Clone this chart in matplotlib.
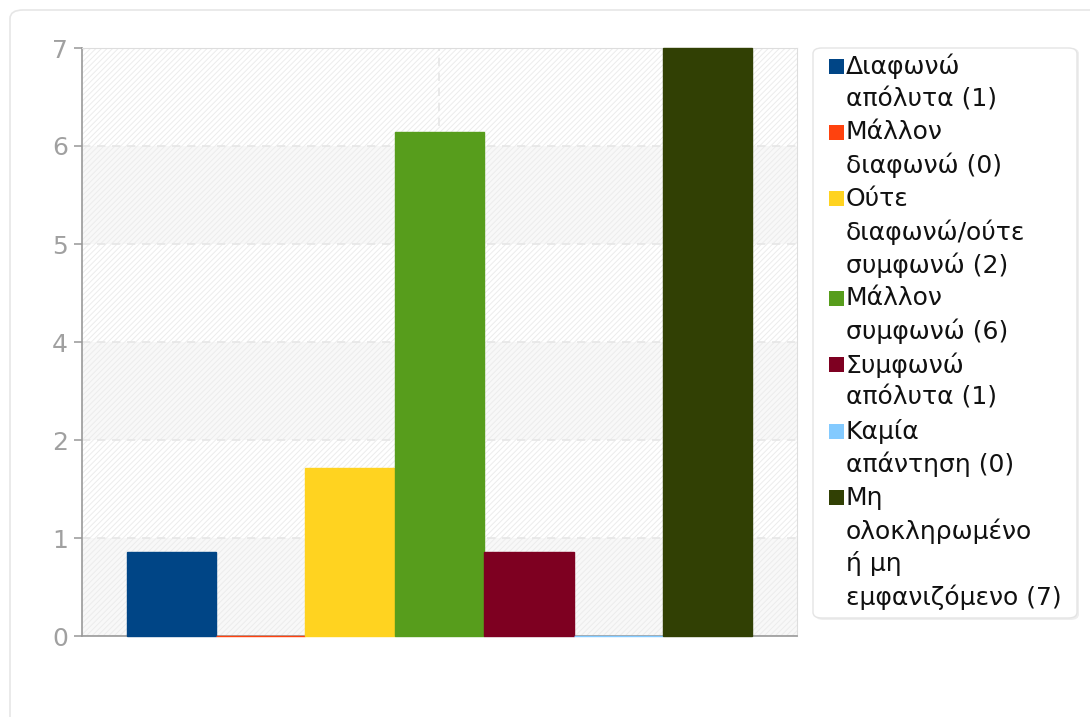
import matplotlib.pyplot as plt
from matplotlib.patches import Rectangle, FancyBboxPatch
import numpy as np

plt.rcParams['hatch.linewidth'] = 0.7

# data
labels = ['Διαφωνώ\nαπόλυτα', 'Μάλλον\nδιαφωνώ', 'Ούτε\nδιαφωνώ/ούτε\nσυμφωνώ',
          'Μάλλον\nσυμφωνώ', 'Συμφωνώ\nαπόλυτα', 'Καμία\nαπάντηση',
          'Μη\nολοκληρωμένο\nή μη\nεμφανιζόμενο']
counts = [1, 0, 2, 6, 1, 0, 7]
colors = ['#004586', '#ff420e', '#ffd320', '#579d1c', '#7e0021', '#83caff', '#314004']

W, H = 1090, 717
fig = plt.figure(figsize=(W / 100, H / 100), dpi=100)

# outer panel border
fig.patches.append(FancyBboxPatch((10 / W, -0.1), 1.2, 1 - 10 / H + 0.1,
                                  boxstyle='round,pad=0,rounding_size=0.012',
                                  transform=fig.transFigure, fc='white', ec='#e6e6e6',
                                  lw=1.2, zorder=-5))

ax = fig.add_axes([82 / W, 1 - 636 / H, (797 - 82) / W, (636 - 48) / H])
ax.set_facecolor('white')
ax.set_xlim(0, 8)
ax.set_ylim(0, 7)

yt = np.linspace(0, 7, 7)
# alternating bands
for i in range(len(yt) - 1):
    if i % 2 == 0:
        ax.axhspan(yt[i], yt[i + 1], color='#f8f8f8', lw=0, zorder=0)
ax.add_patch(Rectangle((0, 0), 1, 1, transform=ax.transAxes, fc='none',
                       ec='#ececec', hatch='/' * 6, lw=0, zorder=0.5))

x = np.arange(1, len(counts) + 1)
ax.bar(x, counts, width=1.0, color=colors, edgecolor=colors, linewidth=1.0,
       zorder=3, clip_on=False)

ax.set_yticks(yt)
ax.set_yticklabels([str(int(round(v))) for v in yt])
ax.set_xticks([4])
ax.set_xticklabels([])
ax.grid(True, color='#e6e6e6', linestyle=(0, (5, 4)), linewidth=1.2, zorder=1)
ax.set_axisbelow(True)
ax.tick_params(axis='y', colors='#a0a0a0', labelsize=18, length=6, width=1.2, pad=4)
ax.tick_params(axis='x', length=0)
for s in ['top', 'right']:
    ax.spines[s].set_color('#dddddd')
for s in ['left', 'bottom']:
    ax.spines[s].set_color('#999999')
    ax.spines[s].set_linewidth(1.2)

# legend
fig.patches.append(FancyBboxPatch((815 / W, 1 - 620 / H), 264 / W, 572 / H,
                                  boxstyle='round,pad=0,rounding_size=0.008',
                                  transform=fig.transFigure, fc='#eeeeee', ec='none', lw=0))
fig.patches.append(FancyBboxPatch((813 / W, 1 - 618 / H), 264 / W, 570 / H,
                                  boxstyle='round,pad=0,rounding_size=0.008',
                                  transform=fig.transFigure, fc='white', ec='#e4e4e4', lw=1))
k = 0
y0, step = 66, 33.2
for lab, c, col in zip(labels, counts, colors):
    lines = (lab + f' ({c})').split('\n')
    yc = y0 + k * step
    fig.patches.append(Rectangle((829 / W, 1 - (yc + 7.5) / H), 15 / W, 15 / H,
                                 transform=fig.transFigure, fc=col, ec='none'))
    for ln in lines:
        fig.text(846 / W, 1 - (y0 + k * step) / H, ln, fontsize=18,
                 color='#111111', va='center', ha='left')
        k += 1

fig.savefig('out.png', dpi=100)
